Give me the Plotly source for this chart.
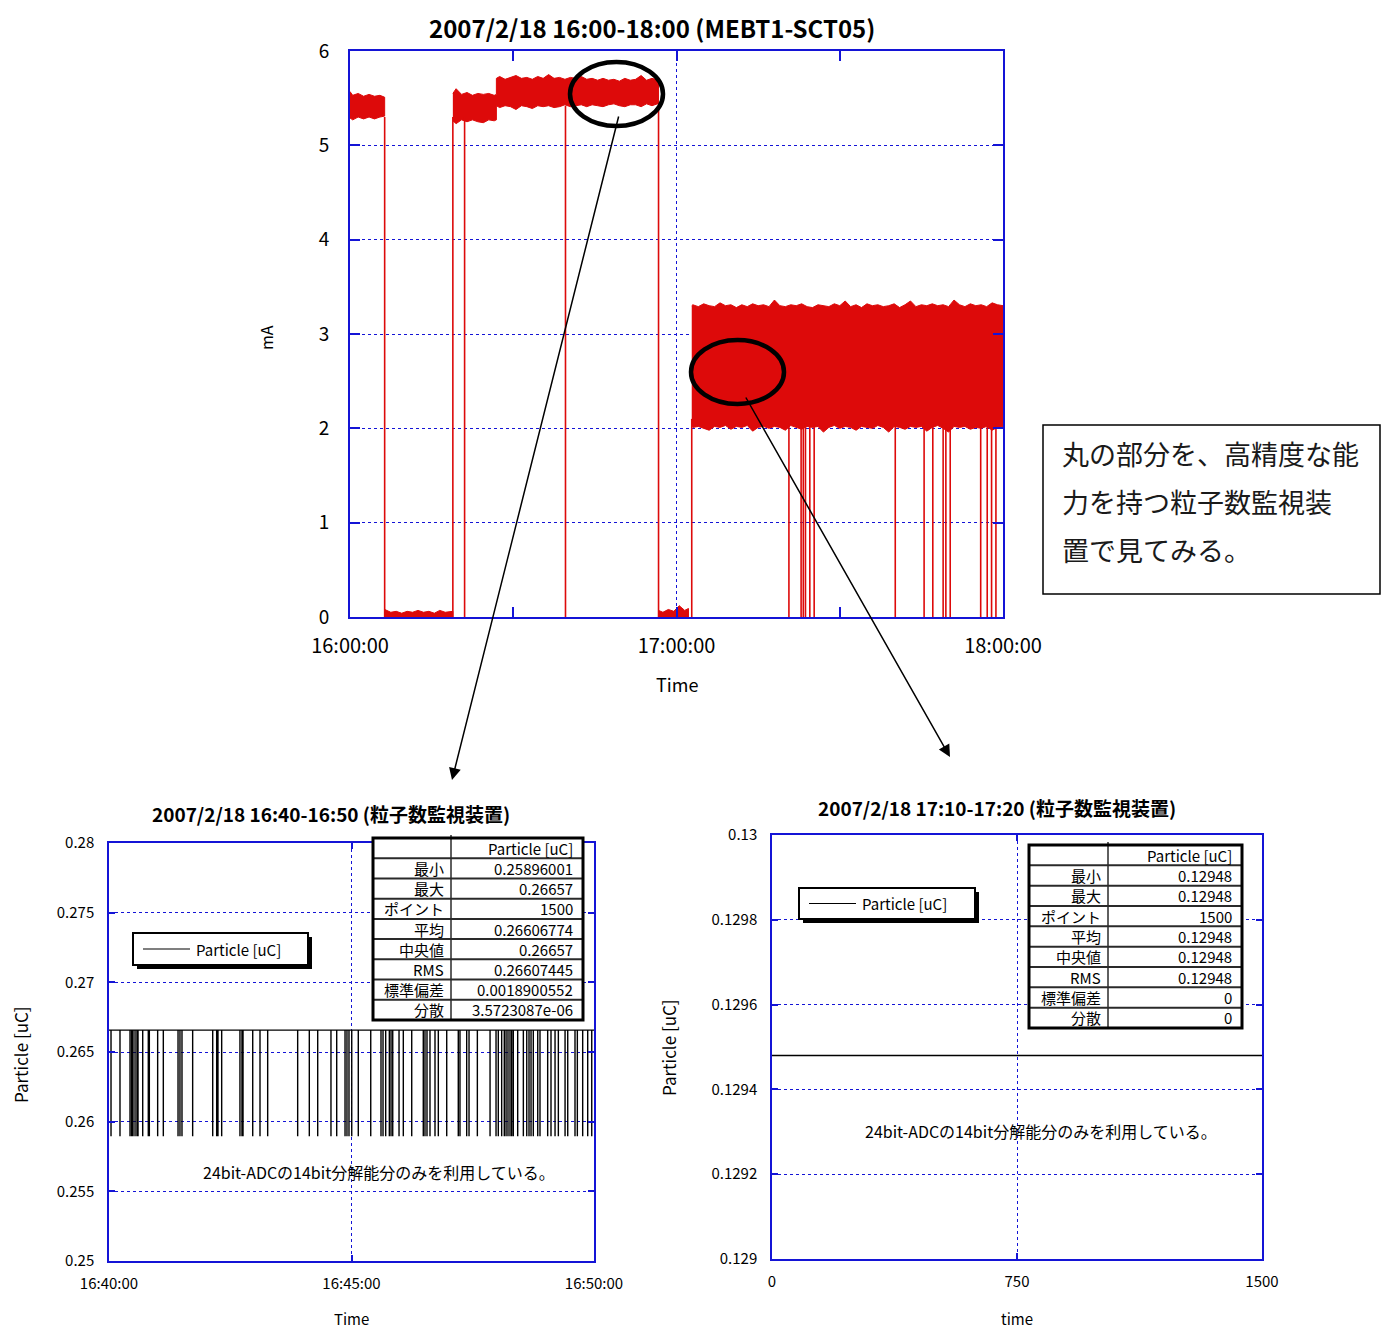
import plotly.graph_objects as go

# ---------------- DATA ----------------
# Top chart: MEBT1-SCT05 current [mA], time in minutes after 16:00
SEG1_T = [0, 0.5, 1.5, 2.5, 3.5, 4.5, 5.5, 6.37]
SEG1_HI = [5.57, 5.53, 5.55, 5.52, 5.54, 5.52, 5.53, 5.51]
SEG1_LO = [5.29, 5.27, 5.30, 5.28, 5.30, 5.28, 5.30, 5.31]

LOW1_T = [6.37, 7.5, 8.5, 9.5, 10.5, 11.5, 12.5, 13.5, 14.5, 15.5, 16.5, 17.5, 18.9]
LOW1_HI = [0.08, 0.05, 0.06, 0.04, 0.06, 0.05, 0.07, 0.05, 0.06, 0.04, 0.07, 0.05, 0.06]
LOW1_LO = [0.0] * 13

SEG23_T = [18.9, 19.5, 20.5, 21.5, 22.5, 23.5, 24.5, 25.5, 26.5, 26.9,
           26.9, 27.5, 28.5, 29.5, 30.5, 31.5, 32.5, 33.5, 34.5, 35.5,
           36.5, 37.5, 38.5, 39.5, 40.5, 41.5, 42.5, 43.5, 44.5, 45.5,
           46.5, 47.5, 48.5, 49.5, 50.5, 51.5, 52.5, 53.5, 54.5, 55.5,
           56.5, 56.7]
SEG23_HI = [5.55, 5.60, 5.54, 5.56, 5.53, 5.55, 5.54, 5.55, 5.53, 5.54,
            5.71, 5.73, 5.70, 5.72, 5.74, 5.71, 5.72, 5.70, 5.73, 5.71,
            5.75, 5.71, 5.72, 5.70, 5.72, 5.71, 5.73, 5.70, 5.71, 5.69,
            5.71, 5.69, 5.70, 5.68, 5.71, 5.69, 5.70, 5.74, 5.69, 5.71,
            5.70, 5.69]
SEG23_LO = [5.26, 5.23, 5.27, 5.25, 5.27, 5.25, 5.24, 5.27, 5.26, 5.27,
            5.42, 5.40, 5.42, 5.41, 5.38, 5.42, 5.41, 5.39, 5.42, 5.41,
            5.42, 5.40, 5.41, 5.43, 5.41, 5.42, 5.43, 5.41, 5.43, 5.42,
            5.41, 5.43, 5.44, 5.42, 5.41, 5.43, 5.43, 5.41, 5.44, 5.42,
            5.44, 5.43]

LOW2_T = [56.7, 57.5, 58.5, 59.5, 60.5, 61.5, 62.2]
LOW2_HI = [0.07, 0.05, 0.08, 0.06, 0.12, 0.07, 0.09]
LOW2_LO = [0.0] * 7

SEG4_T = [62.8, 63, 64, 65, 66, 67, 68, 69, 70, 71,
          72, 73, 74, 75, 76, 77, 78, 79, 80, 81,
          82, 83, 84, 85, 86, 87, 88, 89, 90, 91,
          92, 93, 94, 95, 96, 97, 98, 99, 100, 101,
          102, 103, 104, 105, 106, 107, 108, 109, 110, 111,
          112, 113, 114, 115, 116, 117, 118, 119, 120]
SEG4_HI = [3.30, 3.31, 3.29, 3.32, 3.30, 3.29, 3.33, 3.30, 3.31, 3.28,
           3.31, 3.29, 3.32, 3.30, 3.31, 3.29, 3.36, 3.30, 3.29, 3.31,
           3.30, 3.32, 3.29, 3.28, 3.31, 3.30, 3.29, 3.32, 3.30, 3.35,
           3.29, 3.31, 3.28, 3.32, 3.30, 3.31, 3.29, 3.30, 3.32, 3.28,
           3.31, 3.35, 3.29, 3.31, 3.30, 3.32, 3.30, 3.31, 3.29, 3.36,
           3.31, 3.29, 3.32, 3.30, 3.31, 3.29, 3.33, 3.31, 3.30]
SEG4_LO = [2.03, 2.01, 2.02, 2.00, 1.98, 2.02, 2.01, 2.03, 1.99, 2.02,
           2.01, 2.03, 1.97, 2.01, 2.02, 2.00, 2.02, 2.01, 1.98, 2.03,
           2.01, 1.99, 2.02, 2.01, 2.02, 1.96, 2.01, 2.03, 2.00, 2.02,
           2.01, 1.98, 2.02, 2.01, 2.00, 2.03, 2.01, 1.96, 2.02, 2.01,
           1.99, 2.02, 2.01, 2.02, 1.97, 2.01, 2.03, 2.00, 1.96, 2.02,
           2.01, 2.02, 1.99, 2.01, 2.00, 2.02, 1.98, 2.01, 2.02]

# beam-off drops (minutes) and the level they drop from
DROP_T = [6.37, 18.9, 21.06, 39.6, 56.7, 62.8,
          80.66, 82.9, 83.3, 83.7, 84.5, 85.3, 100.2, 105.5, 107.1,
          109.0, 109.5, 110.3, 115.9, 117.1, 117.9, 118.7]
DROP_TOP = [5.30, 5.30, 5.30, 5.42, 5.44, 2.10,
            2.05, 2.05, 2.05, 2.05, 2.05, 2.05, 2.05, 2.05, 2.05,
            2.05, 2.05, 2.05, 2.05, 2.05, 2.05, 2.05]

TOP_X_TICKS = [0, 60, 120]
TOP_X_LABELS = ["16:00:00", "17:00:00", "18:00:00"]
TOP_Y_TICKS = [0, 1, 2, 3, 4, 5, 6]

# Bottom-left: particle monitor 16:40-16:50 (seconds after 16:40)
BL_LEVEL = 0.26657
BL_MIN = 0.25896001
BL_DROPS = [2.5, 13.6, 26.0, 28.0, 29.7, 32.2, 34.6, 35.9, 41.7, 48.6,
            49.9, 60.2, 67.2, 85.4, 87.8, 90.3, 103.5, 128.3, 133.2, 134.8,
            139.4, 162.0, 164.5, 165.8, 177.8, 186.8, 196.3, 233.4, 247.8, 258.2,
            274.6, 281.7, 292.0, 294.4, 296.9, 300.3, 308.4, 323.8, 336.5, 339.0,
            342.3, 346.8, 348.9, 351.0, 358.8, 364.1, 374.5, 388.8, 390.9, 393.4,
            397.1, 403.3, 407.4, 417.8, 432.1, 434.2, 442.5, 445.4, 455.7, 471.4,
            478.8, 481.6, 485.8, 489.0, 491.2, 493.6, 496.1, 498.2, 500.2, 505.6,
            512.6, 516.8, 519.6, 522.1, 524.9, 530.4, 533.2, 542.7, 546.8, 551.8,
            555.9, 564.2, 567.5, 576.5, 579.4, 586.0, 592.2, 597.2]
BL_X_TICKS = [0, 300, 600]
BL_X_LABELS = ["16:40:00", "16:45:00", "16:50:00"]
BL_Y_TICKS = [0.25, 0.255, 0.26, 0.265, 0.27, 0.275, 0.28]
BL_Y_LABELS = ["0.25", "0.255", "0.26", "0.265", "0.27", "0.275", "0.28"]

# Bottom-right: particle monitor 17:10-17:20 (sample index)
BR_X = [0, 1500]
BR_Y = [0.12948, 0.12948]
BR_X_TICKS = [0, 750, 1500]
BR_Y_TICKS = [0.129, 0.1292, 0.1294, 0.1296, 0.1298, 0.13]
BR_Y_LABELS = ["0.129", "0.1292", "0.1294", "0.1296", "0.1298", "0.13"]

SERIES_NAME = "Particle [uC]"
STAT_NAMES = ["最小", "最大", "ポイント", "平均", "中央値", "RMS", "標準偏差", "分散"]
BL_STATS = ["0.25896001", "0.26657", "1500", "0.26606774", "0.26657",
            "0.26607445", "0.0018900552", "3.5723087e-06"]
BR_STATS = ["0.12948", "0.12948", "1500", "0.12948", "0.12948", "0.12948", "0", "0"]

NOTE_TEXT = "24bit-ADCの14bit分解能分のみを利用している。"
BOX_LINES = ["丸の部分を、高精度な能", "力を持つ粒子数監視装", "置で見てみる。"]

# ---------------- LAYOUT HELPERS ----------------
W, H = 1389, 1331
OFF = 8                      # page body margin
FW, FH = W - OFF, H - OFF    # figure size
FONT = "Noto Sans CJK JP"
BLUE = "#1414D6"
RED = "#DD0A0A"


def px(x):
    return (x - OFF) / FW


def py(y):
    return 1 - (y - OFF) / FH


fig = go.Figure()

# ---- top chart traces ----
def band(t, hi, lo):
    return go.Scatter(x=list(t) + list(t)[::-1], y=list(hi) + list(lo)[::-1],
                      fill="toself", fillcolor=RED, mode="lines",
                      line=dict(color=RED, width=1), xaxis="x", yaxis="y",
                      showlegend=False, hoverinfo="skip")


for T, HI, LO in [(SEG1_T, SEG1_HI, SEG1_LO), (LOW1_T, LOW1_HI, LOW1_LO),
                  (SEG23_T, SEG23_HI, SEG23_LO), (LOW2_T, LOW2_HI, LOW2_LO),
                  (SEG4_T, SEG4_HI, SEG4_LO)]:
    fig.add_trace(band(T, HI, LO))

dx, dy = [], []
for t, top in zip(DROP_T, DROP_TOP):
    dx += [t, t, None]
    dy += [0, top, None]
fig.add_trace(go.Scatter(x=dx, y=dy, mode="lines", line=dict(color=RED, width=1.6),
                         xaxis="x", yaxis="y", showlegend=False, hoverinfo="skip"))

# ---- bottom-left trace ----
bx, by = [0], [BL_LEVEL]
for t in BL_DROPS:
    bx += [t, t, t]
    by += [BL_LEVEL, BL_MIN, BL_LEVEL]
bx.append(600)
by.append(BL_LEVEL)
fig.add_trace(go.Scatter(x=bx, y=by, mode="lines", name=SERIES_NAME,
                         line=dict(color="black", width=1.4),
                         xaxis="x2", yaxis="y2", showlegend=False))

# ---- bottom-right trace ----
fig.add_trace(go.Scatter(x=BR_X, y=BR_Y, mode="lines", name=SERIES_NAME,
                         line=dict(color="black", width=1.4),
                         xaxis="x3", yaxis="y3", showlegend=False))


def axis(dom, rng, tickvals, ticktext, size, lw, tl, standoff=None, **kw):
    d = dict(domain=dom, range=rng, tickvals=tickvals, ticktext=ticktext,
             showline=True, linecolor=BLUE, linewidth=lw, mirror="ticks",
             ticks="inside", tickcolor=BLUE, ticklen=tl, tickwidth=lw,
             showgrid=True, gridcolor=BLUE, griddash="dot", gridwidth=1,
             zeroline=False, automargin=False,
             tickfont=dict(family=FONT, size=size, color="black"),
             fixedrange=True)
    if standoff is not None:
        d["ticklabelstandoff"] = standoff
    d.update(kw)
    return d


fig.update_layout(
    template="none",
    width=FW, height=FH, autosize=False,
    margin=dict(l=0, r=0, t=0, b=0, pad=0, autoexpand=False),
    paper_bgcolor="white", plot_bgcolor="white",
    font=dict(family=FONT, color="black"),
    showlegend=False,
    xaxis=axis([px(350), px(1003)], [0, 120], TOP_X_TICKS, TOP_X_LABELS, 20, 2, 10,
               standoff=10, anchor="y",
               minor=dict(tickvals=[30, 90], ticks="inside", ticklen=10,
                          tickcolor=BLUE, tickwidth=2, showgrid=False)),
    yaxis=axis([py(617), py(51)], [0, 6], TOP_Y_TICKS, [str(v) for v in TOP_Y_TICKS],
               19, 2, 10, standoff=15, anchor="x"),
    xaxis2=axis([px(109), px(594)], [0, 600], BL_X_TICKS, BL_X_LABELS, 15, 1.5, 6,
                standoff=8, anchor="y2"),
    yaxis2=axis([py(1261), py(843)], [0.25, 0.28], BL_Y_TICKS, BL_Y_LABELS, 15, 1.5, 6,
                standoff=10, anchor="x2"),
    xaxis3=axis([px(772), px(1262)], [0, 1500], BR_X_TICKS, [str(v) for v in BR_X_TICKS],
                15, 1.5, 6, standoff=8, anchor="y3"),
    yaxis3=axis([py(1259), py(835)], [0.129, 0.13], BR_Y_TICKS, BR_Y_LABELS, 15, 1.5, 6,
                standoff=10, anchor="x3"),
)

# ---- annotations ----
def text(x, y, s, size, bold=False, angle=0, xanchor="center", yanchor="middle",
         color="black"):
    fig.add_annotation(x=px(x), y=py(y), xref="paper", yref="paper", text=s,
                       showarrow=False, textangle=angle, xanchor=xanchor, yanchor=yanchor,
                       font=dict(family=FONT, size=size, color=color,
                                 weight=700 if bold else 400))


text(652, 8, "2007/2/18 16:00-18:00 (MEBT1-SCT05)", 24, bold=True, yanchor="top")
text(266, 338, "mA", 16, angle=-90)
text(677, 684, "Time", 18)
text(331, 813, "2007/2/18 16:40-16:50 (粒子数監視装置)", 19, bold=True)
text(20, 1055, "Particle [uC]", 17, angle=-90)
text(351, 1331, "Time", 15, yanchor="bottom")
text(997, 807, "2007/2/18 17:10-17:20 (粒子数監視装置)", 19, bold=True)
text(668, 1048, "Particle [uC]", 17, angle=-90)
text(1017, 1331, "time", 15, yanchor="bottom")
text(379, 1172, NOTE_TEXT, 16)
text(1041, 1131, NOTE_TEXT, 16)
for i, line in enumerate(BOX_LINES):
    text(1060, 453 + i * 48, line, 27, xanchor="left", color="#1a1a1a")

# arrows (head, tail)
for (hx, hy), (tx, ty) in [((452, 780), (619, 115)), ((950, 757), (745, 396))]:
    fig.add_annotation(x=px(hx), y=py(hy), xref="paper", yref="paper", text="",
                       showarrow=True, ax=tx - hx, ay=ty - hy, axref="pixel", ayref="pixel",
                       arrowhead=2, arrowsize=1.6, arrowwidth=1.5, arrowcolor="black",
                       standoff=0)

# ---- shapes ----
shapes = []


def rect(x0, x1, y0, y1, fill=None, lw=0, lc="black", layer="above"):
    d = dict(type="rect", xref="paper", yref="paper", layer=layer,
             x0=px(x0), x1=px(x1), y0=py(y1), y1=py(y0),
             line=dict(color=lc, width=lw))
    if fill:
        d["fillcolor"] = fill
    shapes.append(d)


def seg(x0, y0, x1, y1, lw=1, lc="black"):
    shapes.append(dict(type="line", xref="paper", yref="paper", layer="above",
                       x0=px(x0), x1=px(x1), y0=py(y0), y1=py(y1),
                       line=dict(color=lc, width=lw)))


# ellipses
for x0, x1, y0, y1 in [(570, 663, 62, 126), (691, 784, 340, 404)]:
    shapes.append(dict(type="circle", xref="paper", yref="paper",
                       x0=px(x0), x1=px(x1), y0=py(y1), y1=py(y0),
                       line=dict(color="black", width=4.5)))
# text box
rect(1043, 1380, 425, 594, lw=1.5)

# legends (manual, with drop shadow)
for (x0, x1, y0, y1) in [(133, 308, 933, 965), (799, 975, 888, 919)]:
    rect(x0 + 4, x1 + 4, y0 + 4, y1 + 4, fill="black")
    rect(x0, x1, y0, y1, fill="white", lw=2)
    ym = (y0 + y1) / 2
    seg(x0 + 10, ym, x0 + 57, ym, lw=1.2)
    text(x0 + 61, ym, SERIES_NAME, 15, xanchor="left")


# stat tables
def stat_table(x0, xm, x1, y0, y1, values):
    n = len(STAT_NAMES) + 1
    h = (y1 - y0) / n
    rect(x0, x1, y0, y1, fill="white", lw=0)
    for i in range(1, n):
        seg(x0, y0 + i * h, x1, y0 + i * h, lw=2, lc="#2a2a2a")
    seg(xm, y0 - 3, xm, y1, lw=1.5, lc="#2a2a2a")
    rect(x0, x1, y0, y1, lw=3)
    text(x1 - 8, y0 + h / 2, SERIES_NAME, 15, xanchor="right")
    for i, (name, val) in enumerate(zip(STAT_NAMES, values)):
        yc = y0 + (i + 1) * h + h / 2
        text(xm - 5, yc, name, 15, xanchor="right")
        text(x1 - 8, yc, val, 15, xanchor="right")


stat_table(373, 451, 583, 838, 1020, BL_STATS)
stat_table(1029, 1108, 1242, 845, 1028, BR_STATS)

fig.update_layout(shapes=shapes)

fig.write_html("out.html")
